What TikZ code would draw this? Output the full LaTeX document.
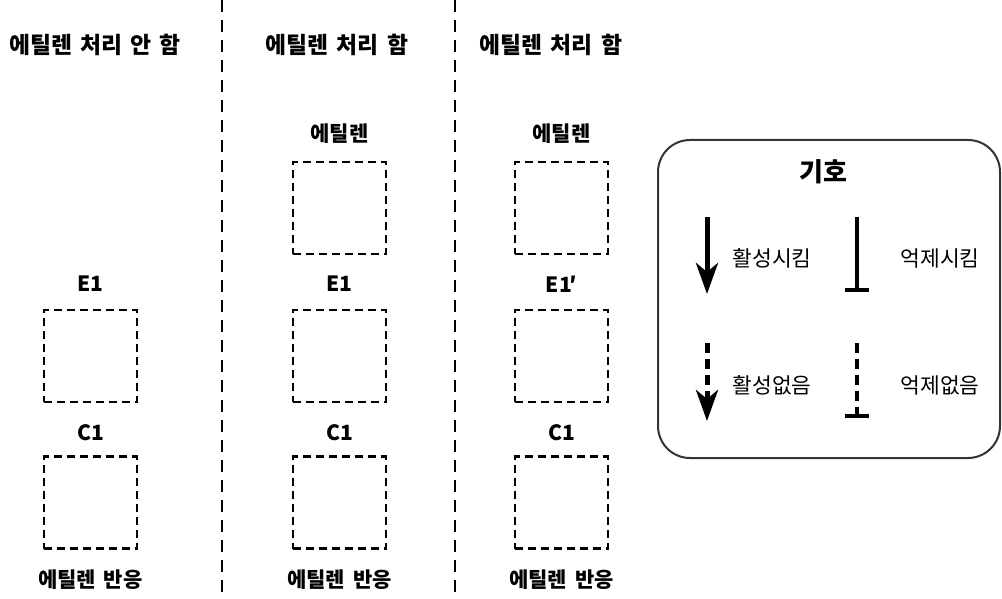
\documentclass[tikz,border=0pt]{standalone}
\usepackage{fontspec}
\setmainfont{Noto Sans CJK KR}[WordSpace=1.6]
\usetikzlibrary{arrows.meta}
\tikzset{
  dbox/.style={draw=black, line width=2.8pt, dash pattern=on 8pt off 5pt, minimum width=93pt, minimum height=92pt, inner sep=0pt},
  title/.style={font=\fontsize{22.8}{26}\selectfont\bfseries, inner sep=0pt},
  lbl/.style={font=\fontsize{21}{24}\selectfont\bfseries, inner sep=0pt},
  leg/.style={font=\fontsize{21.5}{24}\selectfont, inner sep=0pt},
  divider/.style={line width=1.8pt, dash pattern=on 12pt off 8pt},
  actarrow/.style={line width=5pt, -{Stealth[length=31pt, width=22pt, inset=9pt]}},
  inhibit/.style={line width=4.5pt, -{Bar[width=24pt]}},
  dashedleg/.style={dash pattern=on 10pt off 6pt},
}
\begin{document}
\begin{tikzpicture}[x=1pt, y=-1pt]
\useasboundingbox (0,0) rectangle (1002,599);
% dividers
\coordinate (d1t) at (222,0); \coordinate (d1b) at (222,599);
\coordinate (d2t) at (455,0); \coordinate (d2b) at (455,599);
\draw[divider] (d1t) -- (d1b);
\draw[divider] (d2t) -- (d2b);
% titles
\node[title] (t1) at (95,45) {에틸렌 처리 안 함};
\node[title] (t2) at (337,45) {에틸렌 처리 함};
\node[title] (t3) at (551,45) {에틸렌 처리 함};
% column 1
\node[lbl] (e1a) at (90.5,284) {E1};
\node[dbox] (b1m) at (90.5,356) {};
\node[lbl] (c1a) at (90.5,433) {C1};
\node[dbox] (b1b) at (90.5,502.5) {};
\node[lbl] (r1) at (90.5,580) {에틸렌 반응};
% column 2
\node[lbl] (eth2) at (339.5,134) {에틸렌};
\node[dbox] (b2t) at (339.5,208) {};
\node[lbl] (e1b) at (339.5,284) {E1};
\node[dbox] (b2m) at (339.5,356) {};
\node[lbl] (c1b) at (339.5,433) {C1};
\node[dbox] (b2b) at (339.5,502.5) {};
\node[lbl] (r2) at (339.5,580) {에틸렌 반응};
% column 3
\node[lbl] (eth3) at (561.5,134) {에틸렌};
\node[dbox] (b3t) at (561.5,208) {};
\node[lbl] (e1c) at (561.5,284) {E1\kern-2pt′};
\node[dbox] (b3m) at (561.5,356) {};
\node[lbl] (c1c) at (561.5,433) {C1};
\node[dbox] (b3b) at (561.5,502.5) {};
\node[lbl] (r3) at (561.5,580) {에틸렌 반응};
% legend
\node[draw=black!80, line width=2pt, rounded corners=32pt, minimum width=342pt, minimum height=318pt] (legend) at (829,299) {};
\node[font=\fontsize{26}{29}\selectfont\bfseries, inner sep=0pt] (legt) at (823,172) {기호};
\coordinate (a1s) at (707,217); \coordinate (a1e) at (707,294);
\coordinate (i1s) at (857,217); \coordinate (i1e) at (857,292);
\coordinate (a2s) at (707,343); \coordinate (a2e) at (707,421);
\coordinate (i2s) at (857,343); \coordinate (i2e) at (857,418);
\draw[actarrow] (a1s) -- (a1e);
\draw[inhibit] (i1s) -- (i1e);
\draw[actarrow, dashedleg] (a2s) -- (a2e);
\draw[inhibit, dashedleg] (i2s) -- (i2e);
\node[leg] (l1) at (772,258) {활성시킴};
\node[leg] (l2) at (940,258) {억제시킴};
\node[leg] (l3) at (772,385) {활성없음};
\node[leg] (l4) at (940,385) {억제없음};
\end{tikzpicture}
\end{document}
